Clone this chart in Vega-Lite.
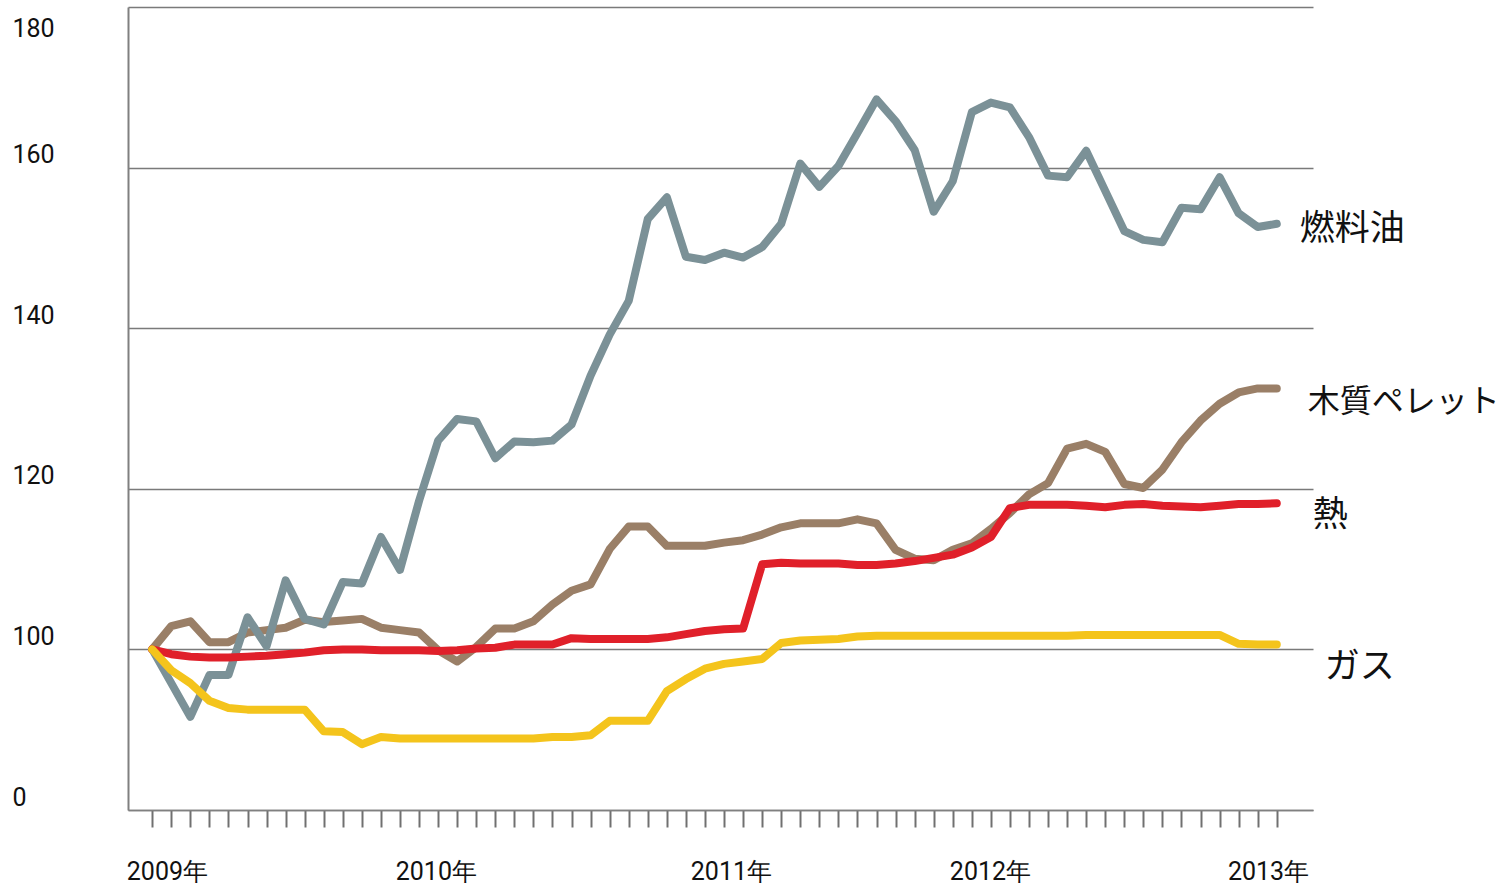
{
  "$schema": "https://vega.github.io/schema/vega-lite/v6.json",
  "width": 1185,
  "height": 803,
  "padding": {"left": 12, "top": 7, "right": 0, "bottom": 0},
  "background": "white",
  "config": {"view": {"stroke": null}, "font": "Roboto"},
  "datasets": {
    "series": [
      {"s":"木質ペレット","m":0,"v":100},{"s":"木質ペレット","m":1,"v":102.9},{"s":"木質ペレット","m":2,"v":103.5},{"s":"木質ペレット","m":3,"v":100.9},{"s":"木質ペレット","m":4,"v":100.9},{"s":"木質ペレット","m":5,"v":102.1},{"s":"木質ペレット","m":6,"v":102.4},{"s":"木質ペレット","m":7,"v":102.7},{"s":"木質ペレット","m":8,"v":103.7},{"s":"木質ペレット","m":9,"v":103.4},
      {"s":"木質ペレット","m":10,"v":103.6},{"s":"木質ペレット","m":11,"v":103.8},{"s":"木質ペレット","m":12,"v":102.7},{"s":"木質ペレット","m":13,"v":102.4},{"s":"木質ペレット","m":14,"v":102.1},{"s":"木質ペレット","m":15,"v":99.9},{"s":"木質ペレット","m":16,"v":98.5},{"s":"木質ペレット","m":17,"v":100.3},{"s":"木質ペレット","m":18,"v":102.6},{"s":"木質ペレット","m":19,"v":102.6},
      {"s":"木質ペレット","m":20,"v":103.5},{"s":"木質ペレット","m":21,"v":105.6},{"s":"木質ペレット","m":22,"v":107.3},{"s":"木質ペレット","m":23,"v":108.1},{"s":"木質ペレット","m":24,"v":112.5},{"s":"木質ペレット","m":25,"v":115.3},{"s":"木質ペレット","m":26,"v":115.3},{"s":"木質ペレット","m":27,"v":112.9},{"s":"木質ペレット","m":28,"v":112.9},{"s":"木質ペレット","m":29,"v":112.9},
      {"s":"木質ペレット","m":30,"v":113.3},{"s":"木質ペレット","m":31,"v":113.6},{"s":"木質ペレット","m":32,"v":114.3},{"s":"木質ペレット","m":33,"v":115.2},{"s":"木質ペレット","m":34,"v":115.7},{"s":"木質ペレット","m":35,"v":115.7},{"s":"木質ペレット","m":36,"v":115.7},{"s":"木質ペレット","m":37,"v":116.2},{"s":"木質ペレット","m":38,"v":115.7},{"s":"木質ペレット","m":39,"v":112.4},
      {"s":"木質ペレット","m":40,"v":111.3},{"s":"木質ペレット","m":41,"v":111.1},{"s":"木質ペレット","m":42,"v":112.4},{"s":"木質ペレット","m":43,"v":113.2},{"s":"木質ペレット","m":44,"v":115.0},{"s":"木質ペレット","m":45,"v":117.0},{"s":"木質ペレット","m":46,"v":119.3},{"s":"木質ペレット","m":47,"v":120.7},{"s":"木質ペレット","m":48,"v":125.0},{"s":"木質ペレット","m":49,"v":125.6},
      {"s":"木質ペレット","m":50,"v":124.6},{"s":"木質ペレット","m":51,"v":120.6},{"s":"木質ペレット","m":52,"v":120.1},{"s":"木質ペレット","m":53,"v":122.4},{"s":"木質ペレット","m":54,"v":125.8},{"s":"木質ペレット","m":55,"v":128.5},{"s":"木質ペレット","m":56,"v":130.6},{"s":"木質ペレット","m":57,"v":132.0},{"s":"木質ペレット","m":58,"v":132.5},{"s":"木質ペレット","m":59,"v":132.5},

      {"s":"燃料油","m":0,"v":100},{"s":"燃料油","m":1,"v":95.8},{"s":"燃料油","m":2,"v":91.6},{"s":"燃料油","m":3,"v":96.8},{"s":"燃料油","m":4,"v":96.8},{"s":"燃料油","m":5,"v":104.0},{"s":"燃料油","m":6,"v":100.4},{"s":"燃料油","m":7,"v":108.6},{"s":"燃料油","m":8,"v":103.8},{"s":"燃料油","m":9,"v":103.1},
      {"s":"燃料油","m":10,"v":108.4},{"s":"燃料油","m":11,"v":108.2},{"s":"燃料油","m":12,"v":114.0},{"s":"燃料油","m":13,"v":109.9},{"s":"燃料油","m":14,"v":118.5},{"s":"燃料油","m":15,"v":126.0},{"s":"燃料油","m":16,"v":128.7},{"s":"燃料油","m":17,"v":128.4},{"s":"燃料油","m":18,"v":123.8},{"s":"燃料油","m":19,"v":125.9},
      {"s":"燃料油","m":20,"v":125.8},{"s":"燃料油","m":21,"v":126.0},{"s":"燃料油","m":22,"v":128.0},{"s":"燃料油","m":23,"v":134.1},{"s":"燃料油","m":24,"v":139.2},{"s":"燃料油","m":25,"v":143.4},{"s":"燃料油","m":26,"v":153.6},{"s":"燃料油","m":27,"v":156.3},{"s":"燃料油","m":28,"v":148.9},{"s":"燃料油","m":29,"v":148.5},
      {"s":"燃料油","m":30,"v":149.4},{"s":"燃料油","m":31,"v":148.8},{"s":"燃料油","m":32,"v":150.1},{"s":"燃料油","m":33,"v":153.0},{"s":"燃料油","m":34,"v":160.5},{"s":"燃料油","m":35,"v":157.6},{"s":"燃料油","m":36,"v":160.2},{"s":"燃料油","m":37,"v":164.3},{"s":"燃料油","m":38,"v":168.5},{"s":"燃料油","m":39,"v":165.8},
      {"s":"燃料油","m":40,"v":162.2},{"s":"燃料油","m":41,"v":154.5},{"s":"燃料油","m":42,"v":158.3},{"s":"燃料油","m":43,"v":166.9},{"s":"燃料油","m":44,"v":168.1},{"s":"燃料油","m":45,"v":167.5},{"s":"燃料油","m":46,"v":163.8},{"s":"燃料油","m":47,"v":159.0},{"s":"燃料油","m":48,"v":158.8},{"s":"燃料油","m":49,"v":162.1},
      {"s":"燃料油","m":50,"v":157.1},{"s":"燃料油","m":51,"v":152.1},{"s":"燃料油","m":52,"v":151.0},{"s":"燃料油","m":53,"v":150.7},{"s":"燃料油","m":54,"v":155.0},{"s":"燃料油","m":55,"v":154.8},{"s":"燃料油","m":56,"v":158.8},{"s":"燃料油","m":57,"v":154.3},{"s":"燃料油","m":58,"v":152.6},{"s":"燃料油","m":59,"v":153.0},

      {"s":"熱","m":0,"v":100},{"s":"熱","m":1,"v":99.4},{"s":"熱","m":2,"v":99.1},{"s":"熱","m":3,"v":99.0},{"s":"熱","m":4,"v":99.0},{"s":"熱","m":5,"v":99.1},{"s":"熱","m":6,"v":99.2},{"s":"熱","m":7,"v":99.4},{"s":"熱","m":8,"v":99.6},{"s":"熱","m":9,"v":99.9},
      {"s":"熱","m":10,"v":100.0},{"s":"熱","m":11,"v":100.0},{"s":"熱","m":12,"v":99.9},{"s":"熱","m":13,"v":99.9},{"s":"熱","m":14,"v":99.9},{"s":"熱","m":15,"v":99.8},{"s":"熱","m":16,"v":99.9},{"s":"熱","m":17,"v":100.1},{"s":"熱","m":18,"v":100.2},{"s":"熱","m":19,"v":100.6},
      {"s":"熱","m":20,"v":100.6},{"s":"熱","m":21,"v":100.6},{"s":"熱","m":22,"v":101.4},{"s":"熱","m":23,"v":101.3},{"s":"熱","m":24,"v":101.3},{"s":"熱","m":25,"v":101.3},{"s":"熱","m":26,"v":101.3},{"s":"熱","m":27,"v":101.5},{"s":"熱","m":28,"v":101.9},{"s":"熱","m":29,"v":102.3},
      {"s":"熱","m":30,"v":102.5},{"s":"熱","m":31,"v":102.6},{"s":"熱","m":32,"v":110.6},{"s":"熱","m":33,"v":110.8},{"s":"熱","m":34,"v":110.7},{"s":"熱","m":35,"v":110.7},{"s":"熱","m":36,"v":110.7},{"s":"熱","m":37,"v":110.5},{"s":"熱","m":38,"v":110.5},{"s":"熱","m":39,"v":110.7},
      {"s":"熱","m":40,"v":111.0},{"s":"熱","m":41,"v":111.4},{"s":"熱","m":42,"v":111.8},{"s":"熱","m":43,"v":112.7},{"s":"熱","m":44,"v":114.0},{"s":"熱","m":45,"v":117.6},{"s":"熱","m":46,"v":118.0},{"s":"熱","m":47,"v":118.0},{"s":"熱","m":48,"v":118.0},{"s":"熱","m":49,"v":117.9},
      {"s":"熱","m":50,"v":117.7},{"s":"熱","m":51,"v":118.0},{"s":"熱","m":52,"v":118.1},{"s":"熱","m":53,"v":117.9},{"s":"熱","m":54,"v":117.8},{"s":"熱","m":55,"v":117.7},{"s":"熱","m":56,"v":117.9},{"s":"熱","m":57,"v":118.1},{"s":"熱","m":58,"v":118.1},{"s":"熱","m":59,"v":118.2},

      {"s":"ガス","m":0,"v":100},{"s":"ガス","m":1,"v":97.4},{"s":"ガス","m":2,"v":95.8},{"s":"ガス","m":3,"v":93.6},{"s":"ガス","m":4,"v":92.7},{"s":"ガス","m":5,"v":92.5},{"s":"ガス","m":6,"v":92.5},{"s":"ガス","m":7,"v":92.5},{"s":"ガス","m":8,"v":92.5},{"s":"ガス","m":9,"v":89.8},
      {"s":"ガス","m":10,"v":89.7},{"s":"ガス","m":11,"v":88.2},{"s":"ガス","m":12,"v":89.1},{"s":"ガス","m":13,"v":88.9},{"s":"ガス","m":14,"v":88.9},{"s":"ガス","m":15,"v":88.9},{"s":"ガス","m":16,"v":88.9},{"s":"ガス","m":17,"v":88.9},{"s":"ガス","m":18,"v":88.9},{"s":"ガス","m":19,"v":88.9},
      {"s":"ガス","m":20,"v":88.9},{"s":"ガス","m":21,"v":89.1},{"s":"ガス","m":22,"v":89.1},{"s":"ガス","m":23,"v":89.3},{"s":"ガス","m":24,"v":91.1},{"s":"ガス","m":25,"v":91.1},{"s":"ガス","m":26,"v":91.1},{"s":"ガス","m":27,"v":94.8},{"s":"ガス","m":28,"v":96.3},{"s":"ガス","m":29,"v":97.6},
      {"s":"ガス","m":30,"v":98.2},{"s":"ガス","m":31,"v":98.5},{"s":"ガス","m":32,"v":98.8},{"s":"ガス","m":33,"v":100.8},{"s":"ガス","m":34,"v":101.1},{"s":"ガス","m":35,"v":101.2},{"s":"ガス","m":36,"v":101.3},{"s":"ガス","m":37,"v":101.6},{"s":"ガス","m":38,"v":101.7},{"s":"ガス","m":39,"v":101.7},
      {"s":"ガス","m":40,"v":101.7},{"s":"ガス","m":41,"v":101.7},{"s":"ガス","m":42,"v":101.7},{"s":"ガス","m":43,"v":101.7},{"s":"ガス","m":44,"v":101.7},{"s":"ガス","m":45,"v":101.7},{"s":"ガス","m":46,"v":101.7},{"s":"ガス","m":47,"v":101.7},{"s":"ガス","m":48,"v":101.7},{"s":"ガス","m":49,"v":101.8},
      {"s":"ガス","m":50,"v":101.8},{"s":"ガス","m":51,"v":101.8},{"s":"ガス","m":52,"v":101.8},{"s":"ガス","m":53,"v":101.8},{"s":"ガス","m":54,"v":101.8},{"s":"ガス","m":55,"v":101.8},{"s":"ガス","m":56,"v":101.8},{"s":"ガス","m":57,"v":100.7},{"s":"ガス","m":58,"v":100.6},{"s":"ガス","m":59,"v":100.6}
    ],
    "labels": [
      {"label":"燃料油","x":60.21,"y":152.3},
      {"label":"木質ペレット","x":60.63,"y":130.8},
      {"label":"熱","x":60.89,"y":116.7},
      {"label":"ガス","x":61.52,"y":97.8}
    ],
    "years": [
      {"m":0},{"m":12},{"m":24},{"m":36},{"m":48}
    ]
  },
  "encoding": {
    "x": {
      "field": "m", "type": "quantitative",
      "scale": {"domain": [-1.27, 60.9], "nice": false, "zero": false},
      "axis": {
        "title": null,
        "values": [0,1,2,3,4,5,6,7,8,9,10,11,12,13,14,15,16,17,18,19,20,21,22,23,24,25,26,27,28,29,30,31,32,33,34,35,36,37,38,39,40,41,42,43,44,45,46,47,48,49,50,51,52,53,54,55,56,57,58,59,0.77,14.88,30.36,43.95,58.54],
        "grid": false,
        "domain": true, "domainColor": "#808080", "domainWidth": 1.5,
        "ticks": true, "tickColor": "#707070", "tickWidth": 2, "tickSize": 17,
        "tickOpacity": {"condition": {"test": "datum.value % 1 != 0", "value": 0}, "value": 1},
        "labelExpr": "datum.value==0.77?'2009年':datum.value==14.88?'2010年':datum.value==30.36?'2011年':datum.value==43.95?'2012年':datum.value==58.54?'2013年':''",
        "labelOverlap": false, "labelFlush": false,
        "labelFont": "Roboto", "labelFontSize": 25, "labelColor": "#111111",
        "labelBaseline": "middle", "labelAlign": "center", "labelPadding": 44
      }
    },
    "y": {
      "field": "v", "type": "quantitative",
      "scale": {"domain": [80, 180], "nice": false, "zero": false},
      "axis": {
        "title": null,
        "values": [80, 100, 120, 140, 160, 180],
        "grid": true, "gridColor": "#7a7a7a", "gridWidth": 1.3,
        "domain": true, "domainColor": "#808080", "domainWidth": 2,
        "ticks": false,
        "labelAlign": "left", "labelBaseline": "middle", "labelPadding": 116,
        "labelFont": "Roboto", "labelFontSize": 25, "labelColor": "#111111",
        "labelOverlap": false,
        "labelExpr": "datum.value==80?'0':datum.label",
        "labelOffset": {"condition": {"test": "datum.value == 180", "value": 21}, "value": -13}
      }
    }
  },
  "layer": [
    {
      "data": {"name": "series"},
      "mark": {"type": "line", "strokeWidth": 8, "strokeCap": "round", "strokeJoin": "round"},
      "encoding": {
        "color": {
          "field": "s", "type": "nominal", "sort": null,
          "scale": {"domain": ["木質ペレット", "燃料油", "熱", "ガス"], "range": ["#9a7f67", "#7b9197", "#e0202a", "#f4c41c"]},
          "legend": null
        }
      }
    },
    {
      "data": {"name": "years"},
      "mark": {"type": "rule", "color": "#707070", "strokeWidth": 2},
      "encoding": {
        "x": {"field": "m", "type": "quantitative"},
        "y": {"datum": 80, "type": "quantitative"},
        "y2": {"datum": 76.5}
      }
    },
    {
      "data": {"name": "labels"},
      "mark": {"type": "text", "align": "left", "baseline": "middle", "font": "Noto Sans CJK JP", "color": "#111111"},
      "encoding": {
        "x": {"field": "x", "type": "quantitative"},
        "y": {"field": "y", "type": "quantitative"},
        "text": {"field": "label", "type": "nominal"},
        "size": {"condition": {"test": "datum.label == '木質ペレット'", "value": 32}, "value": 35}
      }
    }
  ]
}
